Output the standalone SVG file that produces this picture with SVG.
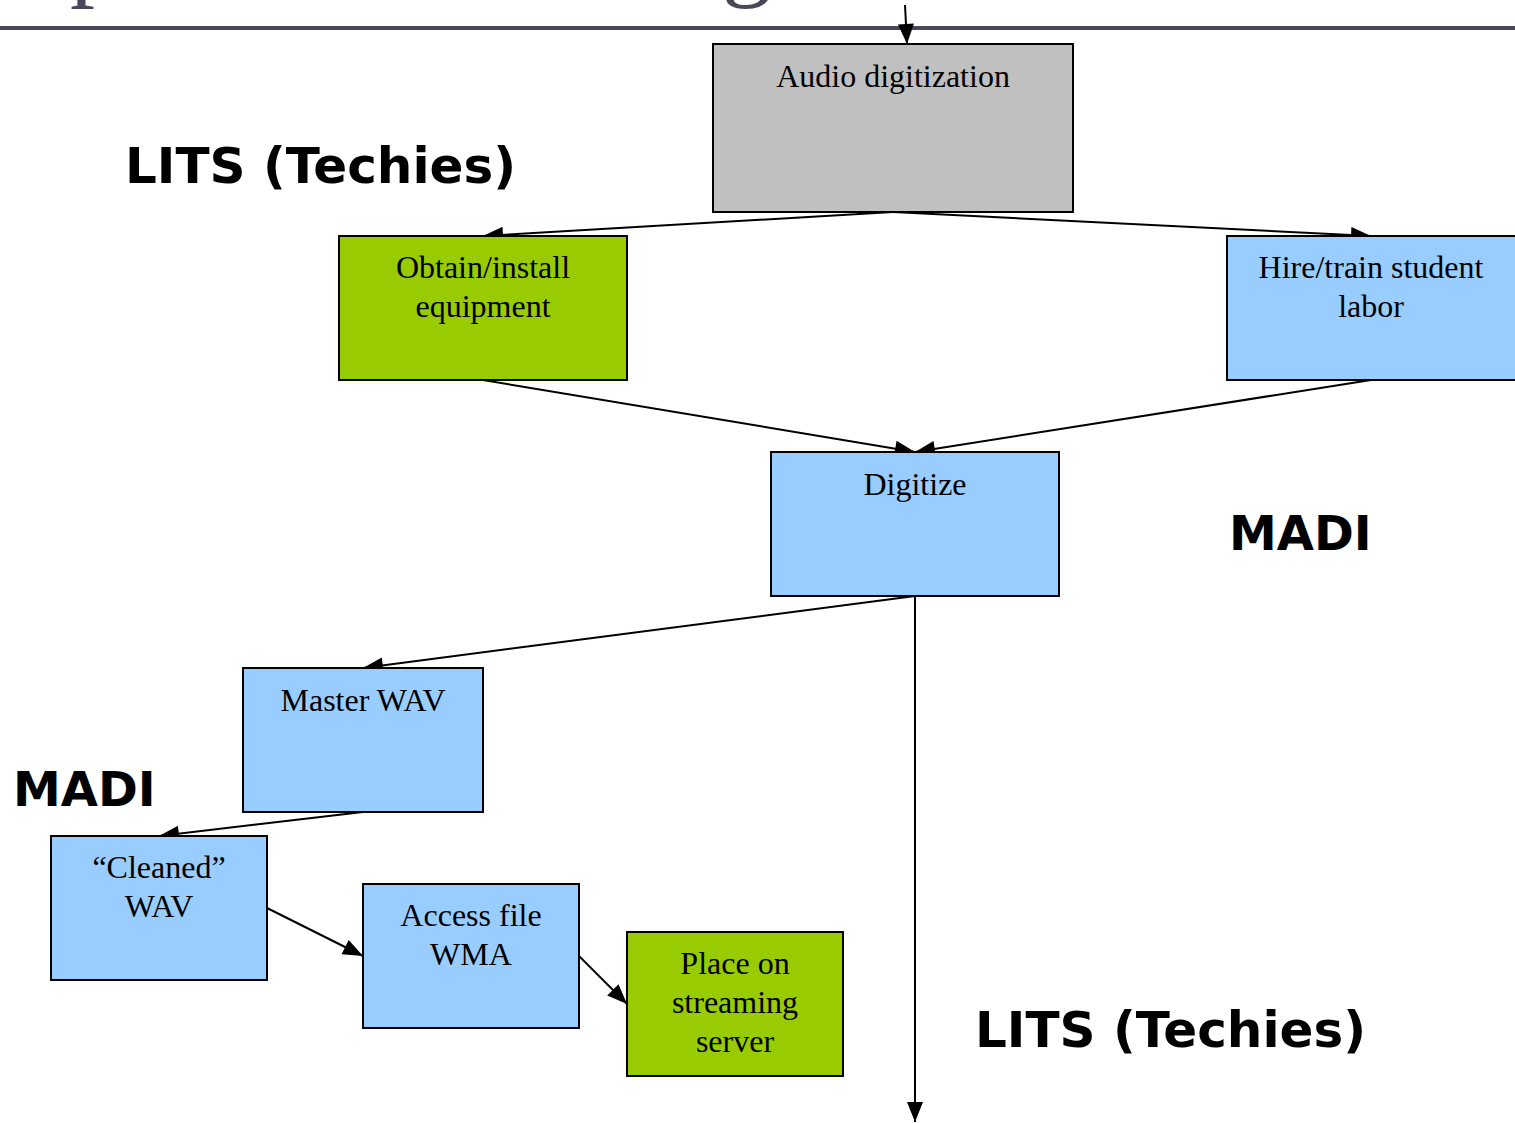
<svg xmlns="http://www.w3.org/2000/svg" width="1515" height="1123" viewBox="0 0 1515 1123">
<defs>
<marker id="ah" markerUnits="userSpaceOnUse" markerWidth="24" markerHeight="20" refX="20" refY="8" orient="auto" overflow="visible">
<path d="M0,0 L20,8 L0,16 z" fill="#000"/>
</marker>
<style>
.box{stroke:#000;stroke-width:2}
.gray{fill:#c0c0c0}
.green{fill:#99cc00}
.blue{fill:#99ccff}
.t{font-family:"Liberation Serif","Times New Roman",serif;font-size:32px;fill:#000;text-anchor:middle}
.lab{font-family:"DejaVu Sans",Verdana,sans-serif;font-weight:bold;font-size:48px;fill:#000}
.lits{font-size:50px}
.c{stroke:#000;stroke-width:2;fill:none;marker-end:url(#ah)}
.title{font-family:"Liberation Serif","Times New Roman",serif;font-size:100px;fill:#4a4858}
</style>
</defs>
<rect width="1515" height="1123" fill="#fff"/>
<g id="title">
<text class="title" x="70" y="-12">p</text>
<text class="title" x="722" y="-12">g</text>
<rect x="0" y="26" width="1515" height="4" fill="#4a4858"/>
</g>
<g id="connectors">
<line class="c" x1="905" y1="5" x2="907" y2="44"/>
<line class="c" x1="893" y1="212" x2="483" y2="236"/>
<line class="c" x1="893" y1="212" x2="1371" y2="236"/>
<line class="c" x1="483" y1="380" x2="915" y2="452"/>
<line class="c" x1="1371" y1="380" x2="915" y2="452"/>
<line class="c" x1="915" y1="596" x2="363" y2="668"/>
<line class="c" x1="915" y1="596" x2="915" y2="1122"/>
<line class="c" x1="363" y1="812" x2="159" y2="836"/>
<line class="c" x1="267" y1="908" x2="363" y2="956"/>
<line class="c" x1="579" y1="956" x2="627" y2="1004"/>
</g>
<g id="audio">
<rect class="box gray" x="713" y="44" width="360" height="168"/>
<text class="t" x="893" y="87">Audio digitization</text>
</g>
<g id="obtain">
<rect class="box green" x="339" y="236" width="288" height="144"/>
<text class="t" x="483" y="278">Obtain/install</text>
<text class="t" x="483" y="317">equipment</text>
</g>
<g id="hire">
<rect class="box blue" x="1227" y="236" width="290" height="144"/>
<text class="t" x="1371" y="278">Hire/train student</text>
<text class="t" x="1371" y="317">labor</text>
</g>
<g id="digitize">
<rect class="box blue" x="771" y="452" width="288" height="144"/>
<text class="t" x="915" y="495">Digitize</text>
</g>
<g id="master">
<rect class="box blue" x="243" y="668" width="240" height="144"/>
<text class="t" x="363" y="711">Master WAV</text>
</g>
<g id="cleaned">
<rect class="box blue" x="51" y="836" width="216" height="144"/>
<text class="t" x="159" y="878">“Cleaned”</text>
<text class="t" x="159" y="917">WAV</text>
</g>
<g id="access">
<rect class="box blue" x="363" y="884" width="216" height="144"/>
<text class="t" x="471" y="926">Access file</text>
<text class="t" x="471" y="965">WMA</text>
</g>
<g id="place">
<rect class="box green" x="627" y="932" width="216" height="144"/>
<text class="t" x="735" y="974">Place on</text>
<text class="t" x="735" y="1013">streaming</text>
<text class="t" x="735" y="1052">server</text>
</g>
<g id="labels">
<text class="lab lits" x="125" y="183">LITS (Techies)</text>
<text class="lab" x="1229" y="550">MADI</text>
<text class="lab" x="13" y="806">MADI</text>
<text class="lab lits" x="975" y="1047">LITS (Techies)</text>
</g>
</svg>
